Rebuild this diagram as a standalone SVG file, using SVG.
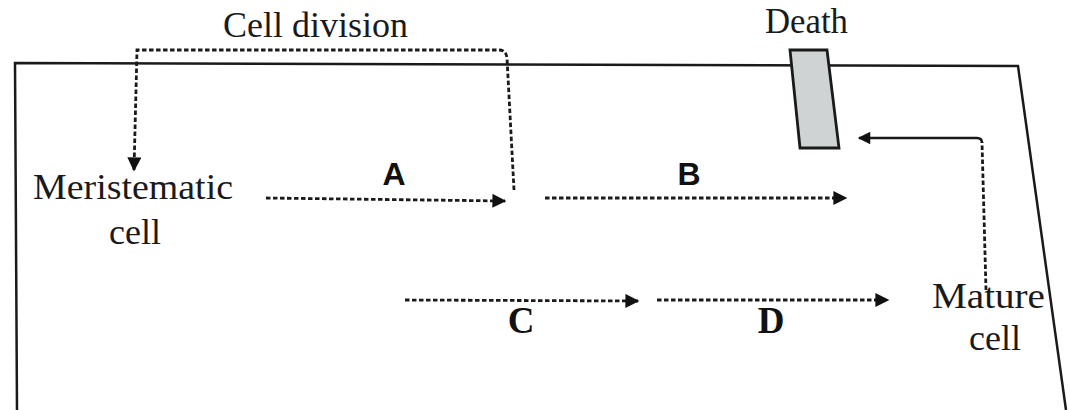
<svg xmlns="http://www.w3.org/2000/svg" width="1068" height="410" viewBox="0 0 1068 410">
  <defs>
    <marker id="head" viewBox="0 0 10 10" refX="9" refY="5" markerWidth="5.5" markerHeight="5" orient="auto" markerUnits="strokeWidth">
      <path d="M0,0 L10,5 L0,10 z" fill="#111"/>
    </marker>
    <style>
      .frame { fill: none; stroke: #1a1a1a; stroke-width: 2.5; }
      .dot { fill: none; stroke: #1a1a1a; stroke-width: 2.8; stroke-dasharray: 4.5 2.5; }
      .solid { fill: none; stroke: #1a1a1a; stroke-width: 2.5; }
      .lbl { font-family: "Liberation Serif", "DejaVu Serif", serif; font-size: 36px; fill: #1a1a1a; }
      .letter { font-family: "Liberation Sans", Arial, sans-serif; font-weight: bold; font-size: 32px; fill: #111; }
      .letterS { font-family: "Liberation Serif", "Times New Roman", serif; font-weight: bold; font-size: 37px; fill: #111; }
    </style>
  </defs>
  <rect width="1068" height="410" fill="#ffffff"/>

  <!-- outer frame -->
  <path class="frame" d="M17,410 L15,63 L1018,66 L1066,410"/>

  <g id="meristematic">
    <text class="lbl" x="33" y="199" textLength="200" lengthAdjust="spacingAndGlyphs">Meristematic</text>
    <text class="lbl" x="135" y="244" text-anchor="middle">cell</text>
  </g>

  <g id="cell-division">
    <text class="lbl" x="223" y="37" font-size="32" textLength="185" lengthAdjust="spacingAndGlyphs">Cell division</text>
  </g>

  <g id="death">
    <text class="lbl" x="765" y="33" font-size="29" textLength="83" lengthAdjust="spacingAndGlyphs">Death</text>
    <path d="M790,50 L827,50 L839,148 L800,148 z" fill="#cfd3d3" stroke="#1a1a1a" stroke-width="2.8"/>
  </g>

  <g id="mature">
    <text class="lbl" x="932" y="308" font-size="37" textLength="113" lengthAdjust="spacingAndGlyphs">Mature</text>
    <text class="lbl" x="995" y="350" font-size="37" text-anchor="middle">cell</text>
  </g>

  <g id="labels">
    <text class="letter" x="394" y="185" text-anchor="middle">A</text>
    <text class="letter" x="689" y="185" text-anchor="middle">B</text>
    <text class="letterS" x="521" y="333" text-anchor="middle">C</text>
    <text class="letterS" x="771" y="333" text-anchor="middle">D</text>
  </g>

  <g id="connectors">
    <!-- cell division loop -->
    <path class="dot" d="M514,190 L507,58 Q506,50 499,50 L137,50 L134,170" marker-end="url(#head)"/>
    <!-- A -->
    <path class="dot" d="M266,198 L505,201" marker-end="url(#head)"/>
    <!-- B -->
    <path class="dot" d="M545,198 L846,198" marker-end="url(#head)"/>
    <!-- C -->
    <path class="dot" d="M405,300 L638,301" marker-end="url(#head)"/>
    <!-- D -->
    <path class="dot" d="M657,300 L888,300" marker-end="url(#head)"/>
    <!-- mature cell to death -->
    <path class="dot" d="M986,290 L982,142"/>
    <path class="solid" d="M982,143 Q982,138 977,138 L859,138" marker-end="url(#head)"/>
  </g>
</svg>
